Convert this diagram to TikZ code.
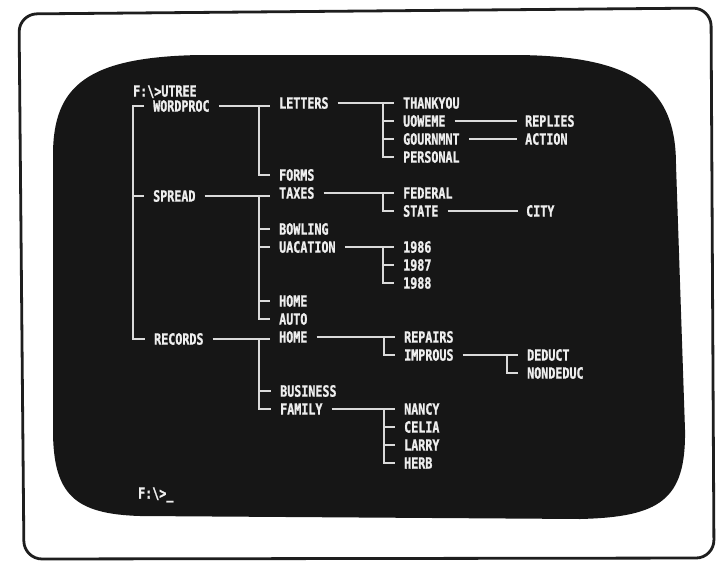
\documentclass[tikz,border=0pt]{standalone}
\usepackage{fontspec}
\newfontfamily\crtfont[FakeStretch=0.755,FakeBold=1.2]{DejaVu Sans Mono Bold}
\definecolor{scr}{RGB}{22,22,22}
\definecolor{glow}{RGB}{238,238,238}
\definecolor{trace}{RGB}{218,218,218}
\definecolor{bezel}{RGB}{30,30,30}
\begin{document}
\begin{tikzpicture}[x=1pt,y=-1pt,
  lbl/.style={anchor=west,inner sep=0pt,text height=11.3pt,text depth=0pt,
    font=\crtfont\fontsize{15.5}{15.5}\selectfont,text=glow},
  br/.style={draw=trace,line width=1.8pt}]
\useasboundingbox (0,0) rectangle (717,562);
\fill[white] (0,0) rectangle (717,562);
% bezel
\draw[bezel,line width=2.8pt,rounded corners=18pt]
  (19,14) -- (711,8) -- (714,558) -- (24,559) -- cycle;
% screen
\fill[scr] (53,155) .. controls (53,85) and (88,57) .. (200,55)
  -- (517,55) .. controls (635,56) and (676,88) .. (676,165)
  -- (685,430) .. controls (686,500) and (660,517) .. (580,519)
  -- (140,516) .. controls (75,514) and (53,495) .. (53,430) -- cycle;

% prompt
\node[lbl] (cmd) at (133,91) {F:\textbackslash>UTREE};
\node[lbl] (prompt) at (138,493) {F:\textbackslash>\_};

% column A
\node[lbl] (wordproc) at (153,106) {WORDPROC};
\node[lbl] (spread)   at (153,196) {SPREAD};
\node[lbl] (records)  at (154,339) {RECORDS};

% column B
\node[lbl] (letters)  at (279,103) {LETTERS};
\node[lbl] (forms)    at (279,175) {FORMS};
\node[lbl] (taxes)    at (279,193) {TAXES};
\node[lbl] (bowling)  at (279,229) {BOWLING};
\node[lbl] (vacation) at (279,247) {UACATION};
\node[lbl] (homeA)    at (279,301) {HOME};
\node[lbl] (auto)     at (279,319) {AUTO};
\node[lbl] (homeB)    at (279,337) {HOME};
\node[lbl] (business) at (280,391) {BUSINESS};
\node[lbl] (family)   at (280,409) {FAMILY};

% column C
\node[lbl] (thankyou) at (403,103) {THANKYOU};
\node[lbl] (uoweme)   at (403,121) {UOWEME};
\node[lbl] (govrnmnt) at (403,139) {GOURNMNT};
\node[lbl] (personal) at (403,157) {PERSONAL};
\node[lbl] (federal)  at (403,193) {FEDERAL};
\node[lbl] (state)    at (403,211) {STATE};
\node[lbl] (y86)      at (403,247) {1986};
\node[lbl] (y87)      at (403,265) {1987};
\node[lbl] (y88)      at (403,283) {1988};
\node[lbl] (repairs)  at (404,337) {REPAIRS};
\node[lbl] (improvs)  at (404,355) {IMPROUS};
\node[lbl] (nancy)    at (404,409) {NANCY};
\node[lbl] (celia)    at (404,427) {CELIA};
\node[lbl] (larry)    at (404,445) {LARRY};
\node[lbl] (herb)     at (404,463) {HERB};

% column D
\node[lbl] (replies)  at (525,121) {REPLIES};
\node[lbl] (action)   at (525,139) {ACTION};
\node[lbl] (city)     at (526,211) {CITY};
\node[lbl] (deduct)   at (527,355) {DEDUCT};
\node[lbl] (nondeduc) at (527,373) {NONDEDUC};

% root level
\draw[br] ([xshift=-9pt]wordproc.west) -- ([xshift=-20pt]wordproc.west) |- ([xshift=-9pt]records.west);
\draw[br] ([xshift=-20pt]spread.west) -- ([xshift=-9pt]spread.west);

% WORDPROC
\draw[br] ([xshift=9pt]wordproc.east) -- ([xshift=-9pt]wordproc.east -| letters.west);
\draw[br] ([xshift=-20pt]wordproc.east -| letters.west) |- ([xshift=-9pt]forms.west);
% SPREAD
\draw[br] ([xshift=9pt]spread.east) -- ([xshift=-9pt]spread.east -| taxes.west);
\draw[br] ([xshift=-20pt]spread.east -| taxes.west) |- ([xshift=-9pt]auto.west);
\foreach \n in {bowling,vacation,homeA}
  \draw[br] ([xshift=-20pt]\n.west) -- ([xshift=-9pt]\n.west);
% RECORDS
\draw[br] ([xshift=9pt]records.east) -- ([xshift=-9pt]records.east -| homeB.west);
\draw[br] ([xshift=-20pt]records.east -| homeB.west) |- ([xshift=-9pt]family.west);
\draw[br] ([xshift=-20pt]business.west) -- ([xshift=-9pt]business.west);

% LETTERS
\draw[br] ([xshift=9pt]letters.east) -- ([xshift=-9pt]thankyou.west);
\draw[br] ([xshift=-20pt]thankyou.west) |- ([xshift=-9pt]personal.west);
\foreach \n in {uoweme,govrnmnt}
  \draw[br] ([xshift=-20pt]\n.west) -- ([xshift=-9pt]\n.west);
% TAXES
\draw[br] ([xshift=9pt]taxes.east) -- ([xshift=-9pt]federal.west);
\draw[br] ([xshift=-20pt]federal.west) |- ([xshift=-9pt]state.west);
% VACATION
\draw[br] ([xshift=9pt]vacation.east) -- ([xshift=-9pt]y86.west);
\draw[br] ([xshift=-20pt]y86.west) |- ([xshift=-9pt]y88.west);
\draw[br] ([xshift=-20pt]y87.west) -- ([xshift=-9pt]y87.west);
% HOME (records)
\draw[br] ([xshift=9pt]homeB.east) -- ([xshift=-9pt]repairs.west);
\draw[br] ([xshift=-20pt]repairs.west) |- ([xshift=-9pt]improvs.west);
% FAMILY
\draw[br] ([xshift=9pt]family.east) -- ([xshift=-9pt]nancy.west);
\draw[br] ([xshift=-20pt]nancy.west) |- ([xshift=-9pt]herb.west);
\foreach \n in {celia,larry}
  \draw[br] ([xshift=-20pt]\n.west) -- ([xshift=-9pt]\n.west);

% single-child links
\draw[br] ([xshift=9pt]uoweme.east) -- ([xshift=-8pt]replies.west);
\draw[br] ([xshift=9pt]govrnmnt.east) -- ([xshift=-8pt]action.west);
\draw[br] ([xshift=9pt]state.east) -- ([xshift=-8pt]city.west);
% IMPROVS
\draw[br] ([xshift=9pt]improvs.east) -- ([xshift=-9pt]deduct.west);
\draw[br] ([xshift=-20pt]deduct.west) |- ([xshift=-9pt]nondeduc.west);
\end{tikzpicture}
\end{document}
